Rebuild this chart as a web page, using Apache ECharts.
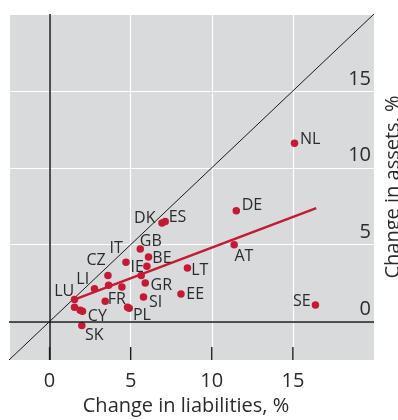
<!DOCTYPE html>
<html>
<head>
<meta charset="utf-8">
<script src="https://cdn.jsdelivr.net/npm/echarts@6/dist/echarts.min.js"></script>
<style>
html,body{margin:0;padding:0;background:#fff;}
#chart{width:398px;height:420px;}
</style>
</head>
<body>
<div id="chart"></div>
<script>
// ---- data ----
var countries = ['NL','DE','AT','SE','DK','ES','GB','BE','IT','IE','GR','SI','EE','LT','PL','CZ','LI','FR','LU','CY','SK','','','','','',''];
var liabilities = [15.10,11.51,11.38,16.39,6.93,7.13,5.59,6.10,4.71,6.00,5.90,5.79,8.10,8.50,4.91,3.60,2.77,3.43,1.54,2.03,1.99,5.65,3.64,4.46,1.54,1.89,4.81];
var assets = [11.60,7.21,5.00,1.08,6.41,6.51,4.72,4.20,3.85,3.59,2.51,1.60,1.80,3.49,0.86,2.99,2.14,1.32,1.43,0.67,-0.26,2.99,2.36,2.25,0.93,0.73,0.93];
var regressionX = [1.52, 16.44];
var regressionY = [1.43, 7.38];
var axisRange = [-2.5, 20];
var xTicks = [0, 5, 10, 15];
var yTicks = [0, 5, 10, 15];
var xTitle = 'Change in liabilities, %';
var yTitle = 'Change in assets, %';

// ---- label placement (style, not data) ----
var labelOffset = {
  NL:[15.7,-3.8], DE:[15.7,-5.5], AT:[9.8,11.7], SE:[-13.6,-3.9],
  DK:[-17.2,-4.1], ES:[12.3,-3.8], GB:[10.5,-7.1], BE:[13.4,1.4],
  IT:[-9.9,-14], IE:[-9.7,1.2], GR:[16,2.9], SI:[12.2,5.6],
  EE:[14.3,0.2], LT:[12.4,2.1], PL:[12.7,6.7], CZ:[-11.9,-14.8],
  LI:[-11.8,-9.5], FR:[11.7,-2.2], LU:[-10.3,-7.8], CY:[14.9,5.3], SK:[12.5,9.4]
};

var FONT = '"Open Sans", "Noto Sans", sans-serif';
var TXT = '#2b2b2b';
var RED = '#c41a35';
var TICK_PX = 13;

var points = countries.map(function(c, i){
  var item = { value: [liabilities[i], assets[i]] };
  if (c) {
    item.label = { show: true, formatter: c, position: 'inside', offset: labelOffset[c] };
  }
  return item;
});

var chart = echarts.init(document.getElementById('chart'), null, {renderer:'canvas'});
chart.setOption({
  animation: false,
  backgroundColor: '#fff',
  grid: { left: 9, right: 24, top: 14, bottom: 60, show: true, backgroundColor: '#d9dadc', borderWidth: 0,
          containLabel: false, outerBoundsMode: 'none' },
  xAxis: {
    type: 'value', position: 'bottom', min: axisRange[0], max: axisRange[1], minInterval: 5, maxInterval: 5,
    axisLine: { show: false, onZero: false },
    axisTick: { show: false },
    axisLabel: { customValues: xTicks, margin: 11, fontSize: 20, color: TXT, fontFamily: FONT },
    splitLine: { show: true, lineStyle: { color: '#ffffff', width: 1.2 } },
    name: xTitle, nameLocation: 'middle', nameGap: 36,
    nameTextStyle: { fontSize: 20, color: TXT, fontFamily: FONT, padding: [0, 11, 0, 0] }
  },
  yAxis: {
    type: 'value', position: 'right', min: axisRange[0], max: axisRange[1], minInterval: 5, maxInterval: 5,
    axisLine: { show: false, onZero: false },
    axisTick: { show: false },
    axisLabel: { customValues: yTicks, inside: true, margin: 3, fontSize: 20, color: TXT, fontFamily: FONT,
                 verticalAlign: 'bottom', padding: [0, 0, 2, 0] },
    splitLine: { show: true, lineStyle: { color: '#ffffff', width: 1.2 } },
    name: yTitle, nameLocation: 'middle', nameGap: 7,
    nameTextStyle: { fontSize: 20, color: TXT, fontFamily: FONT }
  },
  series: [
    {
      type: 'line', silent: true, symbol: 'none',
      data: [[axisRange[0], axisRange[0]], [axisRange[1], axisRange[1]]],
      lineStyle: { color: '#1a1a1a', width: 1 },
      markLine: {
        silent: true, symbol: 'none', label: { show: false },
        lineStyle: { color: '#1a1a1a', width: 1.5, type: 'solid' },
        data: [{ xAxis: 0 }, { yAxis: 0 }]
      },
      z: 2
    },
    {
      type: 'line', silent: true, symbol: 'none',
      data: regressionX.map(function(x, i){ return [x, regressionY[i]]; }),
      lineStyle: { color: RED, width: 2.5 },
      z: 3
    },
    {
      type: 'scatter', symbol: 'circle', symbolSize: 7.5,
      itemStyle: { color: RED, opacity: 1 },
      label: { show: false, color: TXT, fontSize: 16, fontFamily: FONT },
      data: points,
      z: 4
    }
  ]
});

// bottom tick marks, positioned through the chart's own x scale
var tickGraphics = xTicks.map(function(t){
  var p = chart.convertToPixel({ gridIndex: 0 }, [t, axisRange[0]]);
  return {
    type: 'line', silent: true, z: 100,
    shape: { x1: p[0], y1: p[1], x2: p[0], y2: p[1] - TICK_PX },
    style: { stroke: '#1a1a1a', lineWidth: 1.4 }
  };
});
chart.setOption({ graphic: tickGraphics });
</script>
</body>
</html>
